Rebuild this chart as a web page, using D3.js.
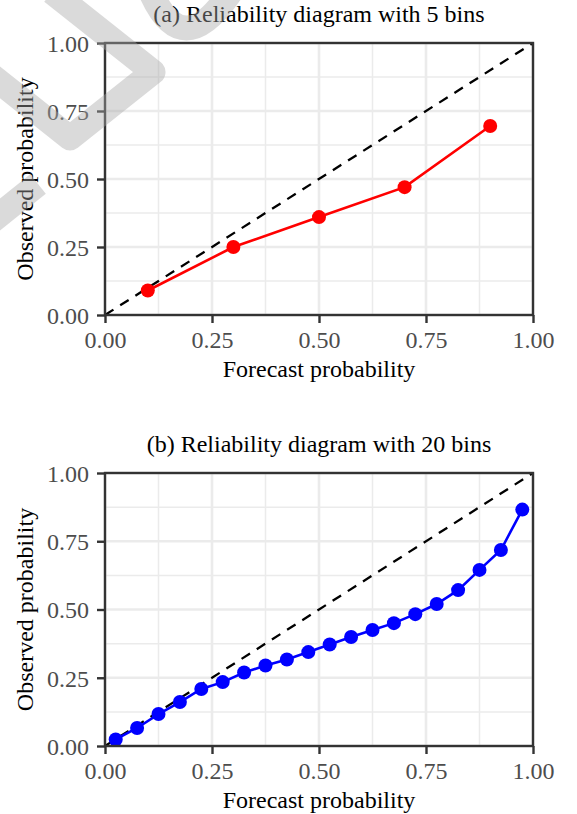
<!DOCTYPE html>
<html>
<head>
<meta charset="utf-8">
<script src="https://cdn.jsdelivr.net/npm/d3@7"></script>
<style>
body { margin: 0; background: #fff; }
svg { font-family: "Liberation Serif", "Times New Roman", serif; }
</style>
</head>
<body>
<svg width="577" height="814"></svg>
<script>
// dati
var titoli = ["(a) Reliability diagram with 5 bins", "(b) Reliability diagram with 20 bins"];
var tickValori = [0, 0.25, 0.5, 0.75, 1];
var tickEtichette = ["0.00", "0.25", "0.50", "0.75", "1.00"];
var gridMinori = [0.125, 0.375, 0.625, 0.875];

var prevA = [0.1, 0.3, 0.5, 0.7, 0.9];
var ossA = [0.09, 0.25, 0.36, 0.47, 0.695];

var prevB = [0.025, 0.075, 0.125, 0.175, 0.225, 0.275, 0.325, 0.375, 0.425, 0.475,
             0.525, 0.575, 0.625, 0.675, 0.725, 0.775, 0.825, 0.875, 0.925, 0.975];
var ossB = [0.024, 0.066, 0.117, 0.161, 0.209, 0.234, 0.269, 0.295, 0.317, 0.344,
            0.372, 0.399, 0.425, 0.45, 0.483, 0.52, 0.571, 0.645, 0.718, 0.866];

var svg = d3.select("svg");

/*
DISEGNA UN PANNELLO
*/
function pannello(top, bottom, titolo, xs, ys, colore){
	var x = d3.scaleLinear().domain([0, 1]).range([105, 533]);
	var y = d3.scaleLinear().domain([0, 1]).range([bottom, top]);
	var g = svg.append("g");

	//griglia
	g.selectAll(".minx").data(gridMinori).enter().append("line")
		.attr("x1", d => x(d)).attr("x2", d => x(d))
		.attr("y1", top).attr("y2", bottom)
		.style("stroke", "#ebebeb").attr("stroke-width", 1.5);
	g.selectAll(".miny").data(gridMinori).enter().append("line")
		.attr("y1", d => y(d)).attr("y2", d => y(d))
		.attr("x1", 105).attr("x2", 533)
		.style("stroke", "#ebebeb").attr("stroke-width", 1.5);
	g.selectAll(".majx").data(tickValori).enter().append("line")
		.attr("x1", d => x(d)).attr("x2", d => x(d))
		.attr("y1", top).attr("y2", bottom)
		.style("stroke", "#ebebeb").attr("stroke-width", 2.6);
	g.selectAll(".majy").data(tickValori).enter().append("line")
		.attr("y1", d => y(d)).attr("y2", d => y(d))
		.attr("x1", 105).attr("x2", 533)
		.style("stroke", "#ebebeb").attr("stroke-width", 2.6);

	//diagonale
	g.append("line")
		.attr("x1", x(0)).attr("y1", y(0))
		.attr("x2", x(1)).attr("y2", y(1))
		.style("stroke", "black").attr("stroke-width", 2.3)
		.style("stroke-dasharray", "10, 8");

	//linea e punti
	var punti = xs.map(function(v, i){ return [v, ys[i]]; });
	g.append("path")
		.datum(punti)
		.attr("d", d3.line().x(d => x(d[0])).y(d => y(d[1])))
		.style("fill", "none").style("stroke", colore).attr("stroke-width", 2.6);
	g.selectAll(".punto").data(punti).enter().append("circle")
		.attr("cx", d => x(d[0])).attr("cy", d => y(d[1]))
		.attr("r", 7).attr("fill", colore);

	//bordo
	g.append("rect")
		.attr("x", 105).attr("y", top)
		.attr("width", 428).attr("height", bottom - top)
		.style("fill", "none").style("stroke", "#333333").attr("stroke-width", 2.4);

	//assi
	var assex = d3.axisBottom(x).tickValues(tickValori)
		.tickFormat((d, i) => tickEtichette[i]).tickSize(8).tickPadding(7);
	var assey = d3.axisLeft(y).tickValues(tickValori)
		.tickFormat((d, i) => tickEtichette[i]).tickSize(8).tickPadding(7);
	var gx = g.append("g").attr("transform", "translate(0," + bottom + ")").call(assex);
	var gy = g.append("g").attr("transform", "translate(105,0)").call(assey);
	[gx, gy].forEach(function(a){
		a.select(".domain").remove();
		a.selectAll(".tick line").style("stroke", "#333333").attr("stroke-width", 2.4);
		a.selectAll(".tick text")
			.style("font-family", "Liberation Serif")
			.style("font-size", "24px").style("fill", "#4d4d4d");
	});
	gx.selectAll(".tick text").attr("dy", null).attr("y", 33)
		.attr("dominant-baseline", "auto");
	gy.selectAll(".tick text").attr("x", -16).attr("dy", "0.35em");

	//titoli
	g.append("text")
		.attr("x", 319).attr("y", top - 21)
		.attr("text-anchor", "middle")
		.style("font-size", "24px").style("fill", "black")
		.text(titolo);
	g.append("text")
		.attr("x", 319).attr("y", bottom + 62)
		.attr("text-anchor", "middle")
		.style("font-size", "24px").style("fill", "black")
		.text("Forecast probability");
	g.append("text")
		.attr("transform", "translate(33," + ((top + bottom) / 2) + ") rotate(-90)")
		.attr("text-anchor", "middle")
		.style("font-size", "24px").style("fill", "black")
		.text("Observed probability");
}

pannello(43, 315, titoli[0], prevA, ossA, "#ff0000");
pannello(473, 746, titoli[1], prevB, ossB, "#0000ff");

//filigrana grigia in alto a sinistra
var filigrana = svg.append("g")
	.style("fill", "none").style("stroke", "#a8a8a8")
	.style("opacity", 0.42).attr("stroke-width", 25)
	.attr("stroke-linejoin", "round");
filigrana.append("path").attr("d", "M -8,76 L 70,138 L 153,72 L 52,-8");
filigrana.append("path").attr("d", "M -12,224 L 38,184");
filigrana.append("path").attr("d", "M 150,-10 Q 182,66 232,-10");
</script>
</body>
</html>
